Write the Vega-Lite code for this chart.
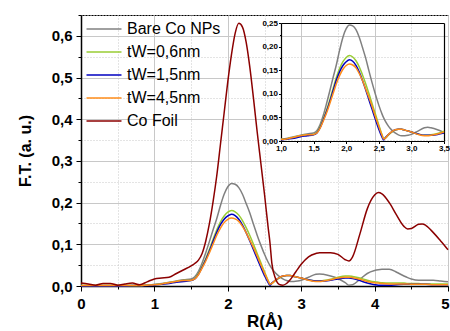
{
  "$schema": "https://vega.github.io/schema/vega-lite/v6.json",
  "width": 367,
  "height": 271,
  "autosize": {"type": "none"},
  "padding": {"left": 81, "top": 15, "right": 2, "bottom": 45},
  "background": "white",
  "config": {
    "font": "Liberation Sans",
    "view": {"stroke": "black", "strokeWidth": 1},
    "axis": {
      "domainColor": "black",
      "domainWidth": 1.5,
      "tickColor": "black",
      "labelColor": "black",
      "titleColor": "black",
      "gridColor": "#c8c8c8",
      "gridWidth": 1,
      "labelOverlap": false,
      "labelFlush": false,
      "labelFontWeight": "bold",
      "titleFontWeight": "bold"
    }
  },
  "datasets": {
    "ft": [
      {"R": 0.0, "g": 0.001, "y": 0.001, "b": 0.000, "o": 0.001, "c": 0.007},
      {"R": 0.1, "g": 0.001, "y": 0.001, "b": 0.000, "o": 0.001, "c": 0.005},
      {"R": 0.2, "g": 0.001, "y": 0.001, "b": 0.000, "o": 0.001, "c": 0.002},
      {"R": 0.3, "g": 0.001, "y": 0.001, "b": 0.000, "o": 0.001, "c": 0.006},
      {"R": 0.4, "g": 0.001, "y": 0.001, "b": 0.000, "o": 0.001, "c": 0.006},
      {"R": 0.5, "g": 0.001, "y": 0.001, "b": 0.000, "o": 0.001, "c": 0.002},
      {"R": 0.6, "g": 0.001, "y": 0.001, "b": 0.000, "o": 0.001, "c": 0.005},
      {"R": 0.7, "g": 0.001, "y": 0.001, "b": 0.001, "o": 0.001, "c": 0.007},
      {"R": 0.8, "g": 0.001, "y": 0.001, "b": 0.001, "o": 0.001, "c": 0.003},
      {"R": 0.9, "g": 0.002, "y": 0.002, "b": 0.001, "o": 0.002, "c": 0.010},
      {"R": 1.0, "g": 0.004, "y": 0.003, "b": 0.002, "o": 0.003, "c": 0.017},
      {"R": 1.1, "g": 0.006, "y": 0.005, "b": 0.004, "o": 0.005, "c": 0.019},
      {"R": 1.2, "g": 0.009, "y": 0.008, "b": 0.006, "o": 0.008, "c": 0.021},
      {"R": 1.3, "g": 0.012, "y": 0.011, "b": 0.009, "o": 0.011, "c": 0.030},
      {"R": 1.4, "g": 0.015, "y": 0.013, "b": 0.011, "o": 0.013, "c": 0.039},
      {"R": 1.5, "g": 0.017, "y": 0.014, "b": 0.013, "o": 0.014, "c": 0.048},
      {"R": 1.55, "g": 0.022, "y": 0.018, "b": 0.017, "o": 0.017, "c": 0.054},
      {"R": 1.6, "g": 0.035, "y": 0.030, "b": 0.028, "o": 0.027, "c": 0.062},
      {"R": 1.65, "g": 0.055, "y": 0.047, "b": 0.045, "o": 0.043, "c": 0.078},
      {"R": 1.7, "g": 0.080, "y": 0.066, "b": 0.063, "o": 0.060, "c": 0.108},
      {"R": 1.75, "g": 0.107, "y": 0.088, "b": 0.084, "o": 0.080, "c": 0.150},
      {"R": 1.8, "g": 0.135, "y": 0.112, "b": 0.107, "o": 0.101, "c": 0.203},
      {"R": 1.85, "g": 0.162, "y": 0.135, "b": 0.129, "o": 0.122, "c": 0.265},
      {"R": 1.9, "g": 0.193, "y": 0.154, "b": 0.147, "o": 0.139, "c": 0.340},
      {"R": 1.95, "g": 0.220, "y": 0.168, "b": 0.160, "o": 0.152, "c": 0.415},
      {"R": 2.0, "g": 0.238, "y": 0.177, "b": 0.168, "o": 0.160, "c": 0.490},
      {"R": 2.05, "g": 0.246, "y": 0.181, "b": 0.172, "o": 0.163, "c": 0.555},
      {"R": 2.1, "g": 0.244, "y": 0.178, "b": 0.169, "o": 0.161, "c": 0.606},
      {"R": 2.15, "g": 0.236, "y": 0.170, "b": 0.160, "o": 0.155, "c": 0.630},
      {"R": 2.2, "g": 0.220, "y": 0.157, "b": 0.146, "o": 0.143, "c": 0.621},
      {"R": 2.25, "g": 0.198, "y": 0.140, "b": 0.128, "o": 0.128, "c": 0.585},
      {"R": 2.3, "g": 0.175, "y": 0.121, "b": 0.108, "o": 0.110, "c": 0.525},
      {"R": 2.35, "g": 0.148, "y": 0.100, "b": 0.087, "o": 0.092, "c": 0.450},
      {"R": 2.4, "g": 0.122, "y": 0.078, "b": 0.066, "o": 0.072, "c": 0.370},
      {"R": 2.45, "g": 0.098, "y": 0.056, "b": 0.045, "o": 0.051, "c": 0.295},
      {"R": 2.5, "g": 0.076, "y": 0.034, "b": 0.025, "o": 0.031, "c": 0.220},
      {"R": 2.55, "g": 0.057, "y": 0.013, "b": 0.008, "o": 0.012, "c": 0.140},
      {"R": 2.575, "g": 0.049, "y": 0.005, "b": 0.002, "o": 0.004, "c": 0.103},
      {"R": 2.6, "g": 0.042, "y": 0.006, "b": 0.007, "o": 0.006, "c": 0.055},
      {"R": 2.65, "g": 0.031, "y": 0.013, "b": 0.014, "o": 0.014, "c": 0.018},
      {"R": 2.7, "g": 0.023, "y": 0.019, "b": 0.020, "o": 0.020, "c": 0.004},
      {"R": 2.75, "g": 0.017, "y": 0.023, "b": 0.024, "o": 0.024, "c": 0.002},
      {"R": 2.8, "g": 0.013, "y": 0.025, "b": 0.025, "o": 0.025, "c": 0.006},
      {"R": 2.85, "g": 0.011, "y": 0.025, "b": 0.025, "o": 0.025, "c": 0.015},
      {"R": 2.9, "g": 0.011, "y": 0.023, "b": 0.023, "o": 0.023, "c": 0.027},
      {"R": 2.95, "g": 0.012, "y": 0.021, "b": 0.021, "o": 0.021, "c": 0.040},
      {"R": 3.0, "g": 0.014, "y": 0.019, "b": 0.019, "o": 0.019, "c": 0.052},
      {"R": 3.1, "g": 0.021, "y": 0.015, "b": 0.015, "o": 0.014, "c": 0.070},
      {"R": 3.2, "g": 0.028, "y": 0.012, "b": 0.012, "o": 0.011, "c": 0.078},
      {"R": 3.25, "g": 0.029, "y": 0.012, "b": 0.012, "o": 0.011, "c": 0.080},
      {"R": 3.3, "g": 0.028, "y": 0.013, "b": 0.012, "o": 0.012, "c": 0.080},
      {"R": 3.4, "g": 0.024, "y": 0.016, "b": 0.014, "o": 0.015, "c": 0.080},
      {"R": 3.5, "g": 0.018, "y": 0.021, "b": 0.017, "o": 0.019, "c": 0.076},
      {"R": 3.6, "g": 0.008, "y": 0.024, "b": 0.019, "o": 0.021, "c": 0.063},
      {"R": 3.65, "g": 0.002, "y": 0.024, "b": 0.019, "o": 0.021, "c": 0.060},
      {"R": 3.7, "g": 0.003, "y": 0.023, "b": 0.018, "o": 0.020, "c": 0.070},
      {"R": 3.8, "g": 0.016, "y": 0.019, "b": 0.013, "o": 0.016, "c": 0.125},
      {"R": 3.9, "g": 0.030, "y": 0.014, "b": 0.007, "o": 0.011, "c": 0.185},
      {"R": 4.0, "g": 0.037, "y": 0.010, "b": 0.003, "o": 0.008, "c": 0.218},
      {"R": 4.05, "g": 0.039, "y": 0.009, "b": 0.002, "o": 0.007, "c": 0.224},
      {"R": 4.1, "g": 0.040, "y": 0.008, "b": 0.002, "o": 0.006, "c": 0.221},
      {"R": 4.2, "g": 0.040, "y": 0.007, "b": 0.002, "o": 0.005, "c": 0.200},
      {"R": 4.3, "g": 0.033, "y": 0.007, "b": 0.003, "o": 0.005, "c": 0.170},
      {"R": 4.4, "g": 0.024, "y": 0.007, "b": 0.004, "o": 0.005, "c": 0.143},
      {"R": 4.45, "g": 0.020, "y": 0.006, "b": 0.004, "o": 0.005, "c": 0.137},
      {"R": 4.5, "g": 0.017, "y": 0.006, "b": 0.004, "o": 0.004, "c": 0.138},
      {"R": 4.6, "g": 0.014, "y": 0.006, "b": 0.004, "o": 0.004, "c": 0.148},
      {"R": 4.65, "g": 0.014, "y": 0.005, "b": 0.004, "o": 0.004, "c": 0.149},
      {"R": 4.7, "g": 0.014, "y": 0.005, "b": 0.004, "o": 0.004, "c": 0.145},
      {"R": 4.8, "g": 0.014, "y": 0.005, "b": 0.003, "o": 0.003, "c": 0.128},
      {"R": 4.9, "g": 0.012, "y": 0.005, "b": 0.003, "o": 0.003, "c": 0.108},
      {"R": 5.0, "g": 0.010, "y": 0.005, "b": 0.003, "o": 0.003, "c": 0.087}
    ]
  },
  "data": {"name": "ft"},
  "transform": [{"fold": ["g", "y", "b", "o", "c"], "as": ["s", "v"]}],
  "layer": [
    {
      "mark": {"type": "line", "strokeWidth": 1.5, "interpolate": "monotone"},
      "encoding": {
        "x": {
          "field": "R", "type": "quantitative",
          "scale": {"domain": [0, 5], "nice": false, "zero": false},
          "axis": {
            "orient": "bottom",
            "values": [0, 0.5, 1, 1.5, 2, 2.5, 3, 3.5, 4, 4.5, 5],
            "title": "R(Å)",
            "labelExpr": "datum.value % 1 === 0 ? format(datum.value, 'd') : ''",
            "labelFontSize": 15,
            "labelPadding": 5,
            "labelOffset": {"condition": {"test": "datum.value === 5", "value": -3}, "value": 0},
            "tickSize": {"condition": {"test": "datum.value % 1 !== 0", "value": 3}, "value": 5},
            "gridDash": {"condition": {"test": "datum.value % 1 !== 0", "value": [1, 2]}, "value": []},
            "titleFontSize": 17,
            "titlePadding": 2
          }
        },
        "y": {
          "field": "v", "type": "quantitative",
          "scale": {"domain": [0, 0.65], "nice": false},
          "axis": {
            "orient": "left",
            "values": [0, 0.05, 0.1, 0.15, 0.2, 0.25, 0.3, 0.35, 0.4, 0.45, 0.5, 0.55, 0.6, 0.65],
            "title": "F.T. (a. u.)",
            "labelExpr": "round(datum.value * 20) % 2 === 0 ? replace(format(datum.value, '.1f'), '.', ',') : ''",
            "labelFontSize": 15,
            "labelPadding": 4,
            "tickSize": {"condition": {"test": "round(datum.value * 20) % 2 === 1", "value": 3}, "value": 5},
            "gridDash": {"condition": {"test": "round(datum.value * 20) % 2 === 1", "value": [1, 2]}, "value": []},
            "titleFontSize": 16,
            "titlePadding": 18
          }
        },
        "color": {
          "field": "s", "type": "nominal",
          "scale": {"domain": ["g", "y", "b", "o", "c"], "range": ["#808080", "#99CC33", "#0000C0", "#FF8C1A", "#8B0000"]},
          "legend": {
            "orient": "none",
            "legendX": 15,
            "legendY": 6,
            "title": null,
            "padding": 0,
            "symbolType": "M-3,0H3",
            "symbolSize": 136,
            "symbolStrokeWidth": 1.5,
            "labelFontSize": 16,
            "labelFontWeight": "normal",
            "labelColor": "black",
            "labelOffset": 15,
            "rowPadding": 7,
            "labelExpr": "datum.value === 'g' ? 'Bare Co NPs' : datum.value === 'y' ? 'tW=0,6nm' : datum.value === 'b' ? 'tW=1,5nm' : datum.value === 'o' ? 'tW=4,5nm' : 'Co Foil'"
          }
        }
      }
    },
    {
      "transform": [{"filter": "datum.s !== 'c' && datum.R >= 1 && datum.R <= 3.5"}],
      "layer": [
        {
          "mark": {"type": "line", "strokeWidth": 1.5, "interpolate": "monotone"},
          "encoding": {
            "x": {
              "field": "R", "type": "quantitative",
              "scale": {"domain": [1, 3.5], "range": [200, 363], "nice": false, "zero": false},
              "axis": {
                "orient": "bottom",
                "offset": -145,
                "values": [1, 1.25, 1.5, 1.75, 2, 2.25, 2.5, 2.75, 3, 3.25, 3.5],
                "title": null,
                "labelExpr": "round(datum.value * 4) % 2 === 0 ? replace(format(datum.value, '.1f'), '.', ',') : ''",
                "labelFontSize": 8,
                "labelPadding": 1,
                "domainWidth": 1.2,
                "tickSize": {"condition": {"test": "round(datum.value * 4) % 2 === 1", "value": 1.5}, "value": 2.5},
                "gridDash": {"condition": {"test": "round(datum.value * 4) % 2 === 1", "value": [1, 2]}, "value": []}
              }
            },
            "y": {
              "field": "v", "type": "quantitative",
              "scale": {"domain": [0, 0.25], "range": [126, 8], "nice": false},
              "axis": {
                "orient": "left",
                "offset": -200,
                "values": [0, 0.025, 0.05, 0.075, 0.1, 0.125, 0.15, 0.175, 0.2, 0.225, 0.25],
                "title": null,
                "labelExpr": "round(datum.value * 40) % 2 === 0 ? replace(format(datum.value, '.2f'), '.', ',') : ''",
                "labelFontSize": 8,
                "labelPadding": 1,
                "domainWidth": 1.2,
                "tickSize": {"condition": {"test": "round(datum.value * 40) % 2 === 1", "value": 1.5}, "value": 2.5},
                "gridDash": {"condition": {"test": "round(datum.value * 40) % 2 === 1", "value": [1, 2]}, "value": []}
              }
            },
            "color": {"field": "s", "type": "nominal"}
          }
        },
        {
          "mark": {"type": "line", "opacity": 0, "strokeWidth": 0},
          "encoding": {
            "x": {
              "field": "R", "type": "quantitative",
              "axis": {"orient": "top", "offset": -8, "labels": false, "ticks": false, "grid": false, "title": null, "domainWidth": 1.2}
            },
            "y": {
              "field": "v", "type": "quantitative",
              "axis": {"orient": "right", "offset": -4, "labels": false, "ticks": false, "grid": false, "title": null, "domainWidth": 1.2}
            },
            "detail": {"field": "s"}
          }
        }
      ],
      "resolve": {"axis": {"x": "independent", "y": "independent"}}
    }
  ],
  "resolve": {"scale": {"x": "independent", "y": "independent"}}
}
